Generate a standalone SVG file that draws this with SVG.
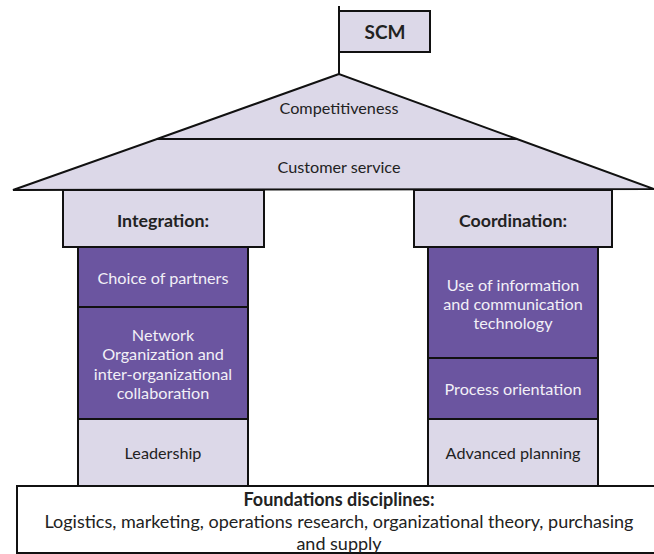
<svg xmlns="http://www.w3.org/2000/svg" width="654" height="554" viewBox="0 0 654 554">
<style>
.lav{fill:#dcd8e8;stroke:#111;stroke-width:2;stroke-linejoin:miter}
.pur{fill:#6b55a0;stroke:#111;stroke-width:2}
.wht{fill:#fff;stroke:#111;stroke-width:2}
text{font-family:Lato,"Open Sans","Liberation Sans",sans-serif;font-size:16.2px;text-anchor:middle;dominant-baseline:central}
.d{fill:#222}
.w{fill:#f2f0f7}
.b{font-weight:bold;font-size:17.8px}
.f{font-size:18px}
</style>
<rect width="654" height="554" fill="#fff"/>
<g id="connectors">
<line x1="339" y1="6" x2="339" y2="75" stroke="#111" stroke-width="2"/>
</g>
<g id="scm">
<rect class="lav" x="339" y="11" width="91" height="41"/>
<text class="d b" x="385" y="31" style="font-size:19px">SCM</text>
</g>
<g id="competitiveness">
<polygon class="lav" points="339,74 157,139 517,139"/>
<text class="d" x="339" y="107">Competitiveness</text>
</g>
<g id="customer-service">
<polygon class="lav" points="157,139 517,139 654,189 13,190"/>
<text class="d" x="339" y="166">Customer service</text>
</g>
<g id="integration">
<rect class="lav" x="63" y="190" width="201" height="57"/>
<text class="d b" x="163" y="220">Integration:</text>
</g>
<g id="coordination">
<rect class="lav" x="414" y="190" width="198" height="57"/>
<text class="d b" x="513" y="220">Coordination:</text>
</g>
<g id="choice-of-partners">
<rect class="pur" x="78" y="247" width="170" height="60"/>
<text class="w" x="163" y="277">Choice of partners</text>
</g>
<g id="network-organization">
<rect class="pur" x="78" y="307" width="170" height="112"/>
<text class="w" x="163" y="334">Network</text>
<text class="w" x="163" y="353">Organization and</text>
<text class="w" x="163" y="373">inter-organizational</text>
<text class="w" x="163" y="392">collaboration</text>
</g>
<g id="leadership">
<rect class="lav" x="78" y="419" width="170" height="67"/>
<text class="d" x="163" y="452">Leadership</text>
</g>
<g id="ict">
<rect class="pur" x="428" y="247" width="170" height="111"/>
<text class="w" x="513" y="284">Use of information</text>
<text class="w" x="513" y="303">and communication</text>
<text class="w" x="513" y="322">technology</text>
</g>
<g id="process-orientation">
<rect class="pur" x="428" y="358" width="170" height="61"/>
<text class="w" x="513" y="388">Process orientation</text>
</g>
<g id="advanced-planning">
<rect class="lav" x="428" y="419" width="170" height="67"/>
<text class="d" x="513" y="452">Advanced planning</text>
</g>
<g id="foundations">
<rect class="wht" x="17" y="486" width="645" height="67"/>
<text class="d b f" x="339" y="499">Foundations disciplines:</text>
<text class="d f" x="339" y="521">Logistics, marketing, operations research, organizational theory, purchasing</text>
<text class="d f" x="339" y="543">and supply</text>
</g>
</svg>
